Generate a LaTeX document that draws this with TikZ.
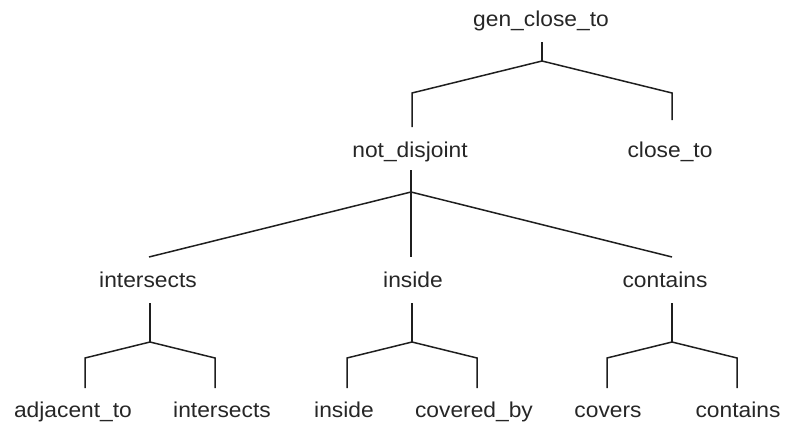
\documentclass[tikz,border=0pt]{standalone}
\usepackage{fontspec}
\setmainfont[FakeStretch=1.06]{Liberation Sans}
\newcommand\lblfont{\fontsize{21.5}{24}\selectfont}
\begin{document}
\begin{tikzpicture}[x=1pt,y=-1pt,
  lbl/.style={font=\lblfont, inner sep=0pt, anchor=base, text=black!85},
  edge/.style={line width=1.5pt, draw=black!88, line join=miter}]
\useasboundingbox (0,0) rectangle (785,423);
% labels
\node[lbl] (gen) at (541,26) {gen\_close\_to};
\node[lbl] (nd) at (410,157) {not\_disjoint};
\node[lbl] (ct) at (670,157) {close\_to};
\node[lbl] (isx) at (148,287) {intersects};
\node[lbl] (ins) at (413,287) {inside};
\node[lbl] (con) at (665,287) {contains};
\node[lbl] (adj) at (73,417) {adjacent\_to};
\node[lbl] (isx2) at (222,417) {intersects};
\node[lbl] (ins2) at (344,417) {inside};
\node[lbl] (cov) at (474,417) {covered\_by};
\node[lbl] (covs) at (608,417) {covers};
\node[lbl] (con2) at (738,417) {contains};
% connector points
\coordinate (g0) at (542,42);  \coordinate (gj) at (542,61);
\coordinate (gl) at (412,93);  \coordinate (gl2) at (412,127);
\coordinate (gr) at (672,93);  \coordinate (gr2) at (672,120);
\coordinate (n0) at (411,170); \coordinate (nj) at (411,192);
\coordinate (nl) at (149,257); \coordinate (nm) at (411,257); \coordinate (nr) at (672,257);
\coordinate (a0) at (150,303); \coordinate (aj) at (150,342);
\coordinate (al) at (85,358);  \coordinate (al2) at (85,388);
\coordinate (ar) at (215,358); \coordinate (ar2) at (215,388);
\coordinate (b0) at (412,303); \coordinate (bj) at (412,342);
\coordinate (bl) at (347,358); \coordinate (bl2) at (347,388);
\coordinate (br) at (477,358); \coordinate (br2) at (477,388);
\coordinate (c0) at (672,303); \coordinate (cj) at (672,342);
\coordinate (cl) at (607,358); \coordinate (cl2) at (607,388);
\coordinate (cr) at (737,358); \coordinate (cr2) at (737,388);
% connectors
\draw[edge] (g0) -- (gj);
\draw[edge] (gl2) -- (gl) -- (gj) -- (gr) -- (gr2);
\draw[edge] (n0) -- (nj) -- (nm);
\draw[edge] (nl) -- (nj) -- (nr);
\draw[edge] (a0) -- (aj);
\draw[edge] (al2) -- (al) -- (aj) -- (ar) -- (ar2);
\draw[edge] (b0) -- (bj);
\draw[edge] (bl2) -- (bl) -- (bj) -- (br) -- (br2);
\draw[edge] (c0) -- (cj);
\draw[edge] (cl2) -- (cl) -- (cj) -- (cr) -- (cr2);
\end{tikzpicture}
\end{document}
